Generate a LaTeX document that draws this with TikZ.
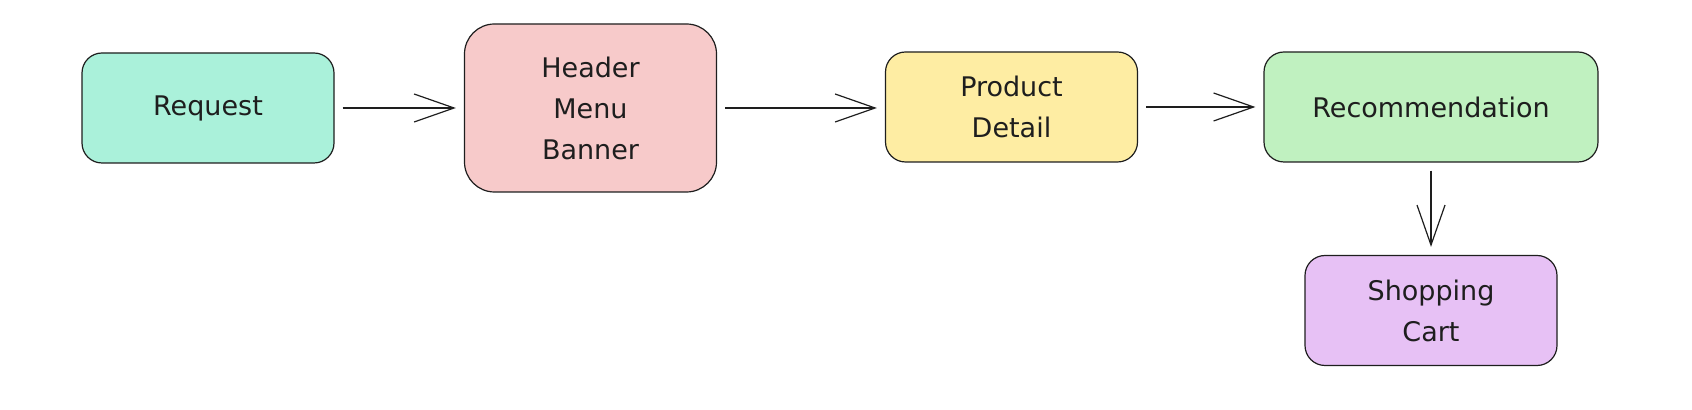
\documentclass[tikz,border=0pt]{standalone}
\usepackage{fontspec}
\setmainfont{DejaVu Sans}
\usetikzlibrary{arrows.meta}
\definecolor{inkc}{HTML}{1E1E1E}
\definecolor{reqc}{HTML}{AAF1DA}
\definecolor{hdrc}{HTML}{F7CACA}
\definecolor{prodc}{HTML}{FEEDA3}
\definecolor{recc}{HTML}{C0F1C0}
\definecolor{cartc}{HTML}{E7C1F5}
\begin{document}
\begin{tikzpicture}[x=0.5pt, y=-0.5pt,
  every node/.style={rectangle, rounded corners=10pt, draw=inkc, line width=0.6pt,
    text=inkc, minimum height=55pt, minimum width=126pt, align=center,
    font=\fontsize{13.5}{20.5}\selectfont},
  flow/.style={-{Straight Barb[length=20pt, width=14pt, line width=0.6pt]},
    draw=inkc, line width=0.6pt, shorten <=4pt, shorten >=4pt}
  ]
  \useasboundingbox (0,0) rectangle (1692,410);
  \node[fill=reqc] (req) at (208,108) {Request};
  \node[fill=hdrc, minimum height=84pt, rounded corners=15pt] (hdr) at (590.5,108) {Header\\Menu\\Banner};
  \node[fill=prodc] (prod) at (1011.5,107) {Product\\Detail};
  \node[fill=recc, minimum width=167pt] (rec) at (1431,107) {Recommendation};
  \node[fill=cartc] (cart) at (1431,310.5) {Shopping\\Cart};
  \draw[flow] (req) -- (hdr);
  \draw[flow] (hdr.east |- req.east) -- (prod.west |- req.east);
  \draw[flow] (prod) -- (rec);
  \draw[flow] (rec) -- (cart);
\end{tikzpicture}
\end{document}
